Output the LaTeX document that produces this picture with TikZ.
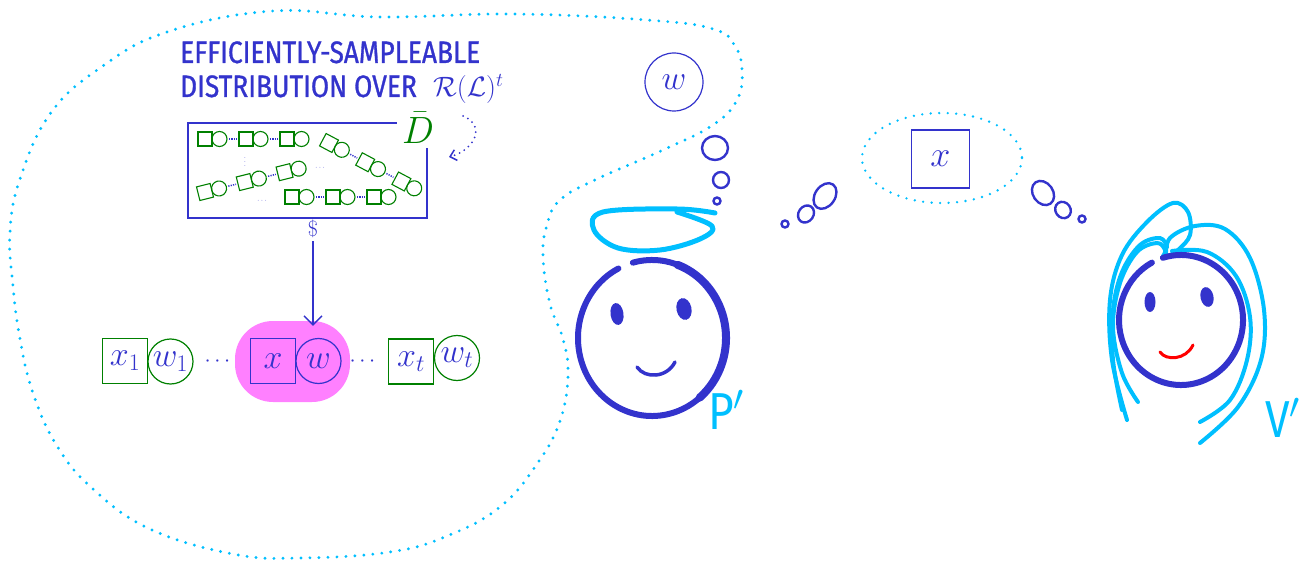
\RequirePackage{fix-cm}
\documentclass[tikz,border=0pt]{standalone}
\usepackage{fontspec}
\usetikzlibrary{arrows.meta,positioning,calc}
\newfontfamily\titlefont[FakeStretch=0.85,FakeBold=0.9]{Fira Sans}
\newfontfamily\namefont[FakeStretch=0.85]{Fira Sans}
\definecolor{inkblue}{RGB}{51,51,204}
\definecolor{halocyan}{RGB}{0,191,255}
\definecolor{treegreen}{RGB}{0,128,0}
\definecolor{pickpink}{RGB}{255,128,255}
\tikzset{
	big/.style={text=inkblue,font=\fontsize{34}{34}\selectfont},
	sq/.style={draw,rectangle,inner sep=0,minimum size=45,line width=1.2,big},
	ci/.style={draw,circle,inner sep=0,minimum size=45,line width=1.2,big},
	bitsq/.style={draw=treegreen,rectangle,inner sep=0,minimum size=14,line width=1.1},
	bitci/.style={draw=treegreen,circle,inner sep=0,minimum size=15,line width=1.1},
	bitlink/.style={inkblue,line width=1.5,dash pattern=on 1.2pt off 1.2pt,shorten <=1.5,shorten >=1.5},
	cloud/.style={halocyan,line width=3.2,line cap=round,dash pattern=on 0pt off 9pt},
	bubble/.style={inkblue,line width=2.4},
	face/.style={inkblue,line width=6,line cap=round},
	hair/.style={halocyan,line width=4,line cap=round,line join=round},
	titletext/.style={text=inkblue,font=\titlefont\fontsize{31}{31}\selectfont,inner sep=0},
	nametext/.style={text=halocyan,font=\namefont\fontsize{52}{52}\selectfont,inner sep=0}
}

\begin{document}
\begin{tikzpicture}[x=1pt,y=-1pt]
	\useasboundingbox (0,0) rectangle (1303,561);

	%%%% prover's cloud
	\draw[cloud] plot[smooth cycle, tension=0.7] coordinates {(273,11) (380,17) (513,14) (647,20) (713,29) (735,46) (742,71) (737,100) (713,125) (663,150) (597,179) (560,200) (547,225) (543,257) (550,304) (563,339) (568,375) (560,421) (537,464) (500,507) (447,536) (390,552) (300,558) (233,554) (150,529) (93,489) (57,446) (33,393) (20,339) (13,286) (10,232) (20,179) (50,114) (100,68) (167,32)};

	%%%% title
	\node[titletext,anchor=base west] (title1) at (180,63) {EFFICIENTLY-SAMPLEABLE};
	\node[titletext,anchor=base west] (title2) at (180,97) {DISTRIBUTION OVER};
	\node[text=inkblue,font=\fontsize{28}{28}\selectfont,anchor=base west,inner sep=0] (rl) at (433,97) {$\mathcal{R}(\mathcal{L})^t$};

	%%%% the distribution box
	\node[minimum width=239,minimum height=95] (dbox) at (307.5,170.5) {};
	\draw[inkblue,line width=2] ([xshift=209]dbox.north west) -- (dbox.north west) -- (dbox.south west) -- (dbox.south east) -- ([yshift=-25]dbox.north east);
	\node[text=treegreen,font=\fontsize{38}{38}\selectfont,inner sep=0] (dbar) at (418,128) {$\bar D$};

	\coordinate (rlfoot) at (463,116);
	\coordinate (dtip) at (449,157);
	\draw[inkblue,line width=2,line cap=round,dash pattern=on 0pt off 5.5pt,-{Straight Barb[length=6pt,width=11pt,line width=1.5]}] (rlfoot) .. controls (487,126) and (474,150) .. (dtip);

	%%%% chains inside the box
	\foreach \cx/\cy/\rot/\name in {205/139/0/a, 329/143/-28/b, 205/192/14/c, 292/197/0/d} {
		\begin{scope}[shift={(\cx,\cy)},rotate=\rot,transform shape]
			\foreach \i in {0,1,2} {
				\node[bitsq] (\name s\i) at (41*\i,0) {};
				\node[bitci] (\name c\i) at (41*\i+14.5,0) {};
			}
			\draw[bitlink] (\name c0) -- (\name s1);
			\draw[bitlink] (\name c1) -- (\name s2);
		\end{scope}
	}
	\node[text=inkblue,font=\fontsize{7}{7}\selectfont,inner sep=0] (vdots) at (245,159) {$\vdots$};
	\node[text=inkblue,font=\fontsize{7}{7}\selectfont,inner sep=0] (hdots1) at (320,168) {$\cdots$};
	\node[text=inkblue,font=\fontsize{7}{7}\selectfont,inner sep=0] (hdots2) at (262,201) {$\cdots$};

	%%%% sampling
	\node[text=inkblue,font=\fontsize{22}{22}\selectfont,inner sep=0] (dollar) at (313,229) {$\$$};
	\node[fill=pickpink,rounded corners=38,minimum width=115,minimum height=81] (pick) at (292.5,361.5) {};
	\draw[inkblue,line width=1.3,-{Straight Barb[length=9pt,width=18pt,line width=1.3]},shorten <=3,shorten >=-5] (dollar.south) -- (dollar.south |- pick.north);

	%%%% row of instances
	\node[sq,draw=treegreen] (x1) at (125,361) {$x_1$};
	\node[ci,draw=treegreen] (w1) at (170.5,361.5) {$w_1$};
	\node[text=inkblue,font=\fontsize{22}{22}\selectfont] (dots1) at (217.5,362) {$\cdots$};
	\node[sq,draw=inkblue] (x) at (273,361) {$x$};
	\node[ci,draw=inkblue] (w) at (318.5,361) {$w$};
	\node[text=inkblue,font=\fontsize{22}{22}\selectfont] (dots2) at (362.5,362) {$\cdots$};
	\node[sq,draw=treegreen] (xt) at (411,361.5) {$x_t$};
	\node[ci,draw=treegreen] (wt) at (457,358) {$w_t$};

	%%%% witness held by P'
	\node[ci,draw=inkblue,minimum size=58] (wp) at (674,82) {$w$};
	\draw[bubble] (715,148) ellipse[x radius=13,y radius=12];
	\draw[bubble] (721,180) circle[radius=8];
	\draw[bubble] (717,201) circle[radius=3.5];

	%%%% statement sent to V'
	\draw[cloud,line width=2.6,dash pattern=on 0pt off 8.5pt] (942,158) ellipse[x radius=80,y radius=45];
	\node[sq,draw=inkblue,line width=1.8,minimum size=58,font=\fontsize{36}{36}\selectfont] (xs) at (940.5,159) {$x$};
	\draw[bubble,rotate around={-35:(825,196)}] (825,196) ellipse[x radius=10,y radius=14];
	\draw[bubble,rotate around={-35:(806,214)}] (806,214) ellipse[x radius=7.5,y radius=9];
	\draw[bubble] (785,224) circle[radius=3.5];
	\draw[bubble,rotate around={35:(1043,193)}] (1043,193) ellipse[x radius=10,y radius=13];
	\draw[bubble,rotate around={35:(1063,210)}] (1063,210) ellipse[x radius=7.5,y radius=8.5];
	\draw[bubble] (1082,219) circle[radius=3.5];

	%%%% P'
	\draw[hair,line width=5] plot[smooth,tension=0.6] coordinates {(715,213) (677,209) (603,212) (594,230) (618,248) (660,250) (700,239) (712,226) (677,212)};
	\coordinate (pface) at (652,338);
	\draw[face] (pface) ++(-105:74 and 78) arc[start angle=-105,end angle=243,x radius=74,y radius=78];
	\draw[face,line width=8] (pface) ++(-70:74 and 78) arc[start angle=-70,end angle=50,x radius=74,y radius=78];
	\fill[inkblue,rotate around={8:(617,314)}] (617,314) ellipse[x radius=6.5,y radius=11];
	\fill[inkblue,rotate around={12:(684,309)}] (684,309) ellipse[x radius=7.5,y radius=11];
	\draw[inkblue,line width=3.5,line cap=round] (637,367) .. controls (645,379) and (667,378) .. (675,362);
	\node[nametext,anchor=base west] (pname) at (708,429) {P$'$};

	%%%% V'
	\draw[hair] plot[smooth,tension=0.6] coordinates {(1127,420) (1112,360) (1110,300) (1122,255) (1147,222) (1173,203) (1188,212) (1190,235) (1178,250) (1168,256)};
	\draw[hair] plot[smooth,tension=0.6] coordinates {(1122,410) (1113,360) (1113,310) (1122,272) (1140,245) (1160,238) (1167,247)};
	\draw[hair] plot[smooth,tension=0.6] coordinates {(1138,402) (1122,373) (1113,327) (1120,283) (1137,252) (1157,243) (1165,250) (1163,256)};
	\draw[hair] plot[smooth,tension=0.6] coordinates {(1166,256) (1170,238) (1195,226) (1225,229) (1250,258) (1264,310) (1261,360) (1238,407) (1200,443)};
	\draw[hair] plot[smooth,tension=0.6] coordinates {(1172,251) (1207,252) (1236,276) (1250,317) (1247,360) (1230,400) (1200,422)};
	\coordinate (vface) at (1181,320);
	\draw[face] (vface) ++(-107:62 and 65) arc[start angle=-107,end angle=242,x radius=62,y radius=65];
	\fill[inkblue] (1150,302) ellipse[x radius=5.5,y radius=10];
	\fill[inkblue,rotate around={12:(1207,297)}] (1207,297) ellipse[x radius=6.5,y radius=10];
	\draw[red,line width=3,line cap=round] (1160,352) .. controls (1166,361) and (1186,360) .. (1193,345);
	\node[nametext,anchor=base west] (vname) at (1265,437) {V$'$};
\end{tikzpicture}
\end{document}
